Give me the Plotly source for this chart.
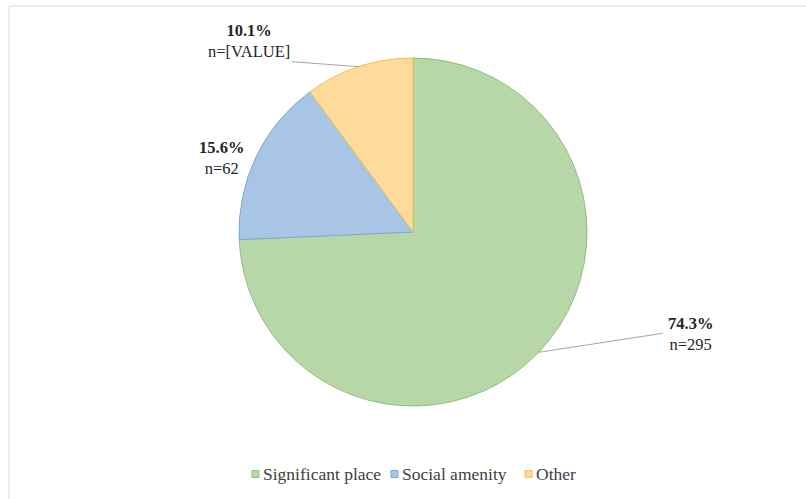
import math
import plotly.graph_objects as go

categories = ["Significant place", "Social amenity", "Other"]
percents = [74.3, 15.6, 10.1]
counts = ["295", "62", "[VALUE]"]
fill_colors = ["#b8d7a8", "#a9c5e6", "#fedb9b"]
edge_colors = ["#8fc079", "#7fa7d9", "#efc24a"]

W, H = 806, 499
CX, CY, R = 413, 232, 174  # pie centre / radius in pixels


def px(x):
    return x / W


def py(y):
    return (H - y) / H


fig = go.Figure()
fig.add_trace(go.Pie(
    labels=categories,
    values=percents,
    sort=False,
    direction="clockwise",
    rotation=0,
    textinfo="none",
    hoverinfo="label+percent",
    showlegend=False,
    marker=dict(colors=fill_colors, line=dict(color=edge_colors, width=1)),
    domain=dict(x=[px(CX - R), px(CX + R)], y=[py(CY + R), py(CY - R)]),
))

# label placement offsets (pixels) relative to slice-edge midpoint
label_offsets = [(152, -18), (-35, 1.5), (-110, -25.5)]
line_ends = [(124, -19), None, (-67, -5)]

annotations = []
shapes = []
total = sum(percents)
cum = 0.0
font_lbl = dict(family="Liberation Serif", size=16.5, color="#262626")
for i, (cat, p, n) in enumerate(zip(categories, percents, counts)):
    mid = (cum + p / 2) / total * 2 * math.pi
    cum += p
    ex = CX + R * math.sin(mid)
    ey = CY - R * math.cos(mid)
    dx, dy = label_offsets[i]
    annotations.append(dict(
        x=px(ex + dx), y=py(ey + dy), xref="paper", yref="paper",
        text=f"<b>{p:.1f}%</b><br>n={n}", showarrow=False, font=font_lbl,
        align="center", xanchor="center", yanchor="middle",
    ))
    if line_ends[i] is not None:
        lx, ly = line_ends[i]
        shapes.append(dict(
            type="line", xref="paper", yref="paper",
            x0=px(ex), y0=py(ey), x1=px(ex + lx), y1=py(ey + ly),
            line=dict(color="#a6a6a6", width=1),
        ))

# legend (drawn as small squares + text, Excel style)
legend_x = [252, 391, 525]
legend_y = 474
for cat, fc, ec, lx in zip(categories, fill_colors, edge_colors, legend_x):
    shapes.append(dict(
        type="rect", xref="paper", yref="paper",
        x0=px(lx), x1=px(lx + 7), y0=py(legend_y + 3.5), y1=py(legend_y - 3.5),
        fillcolor=fc, line=dict(color=ec, width=1),
    ))
    annotations.append(dict(
        x=px(lx + 9), y=py(legend_y), xref="paper", yref="paper",
        text=cat, showarrow=False, xanchor="left", yanchor="middle",
        font=dict(family="Liberation Serif", size=17.5, color="#404040"),
    ))

# outer chart border
shapes.append(dict(
    type="rect", xref="paper", yref="paper",
    x0=px(9), y0=-0.05, x1=1.05, y1=py(6),
    line=dict(color="#d9d9d9", width=1), fillcolor="rgba(0,0,0,0)", layer="below",
))

fig.update_layout(
    width=W, height=H,
    margin=dict(l=0, r=0, t=0, b=0),
    paper_bgcolor="white",
    plot_bgcolor="white",
    annotations=annotations,
    shapes=shapes,
    showlegend=False,
)

fig.write_html(
    "out.html",
    config={"displayModeBar": False},
    post_script=["document.body.style.margin='0';document.body.style.overflow='hidden';"],
)
